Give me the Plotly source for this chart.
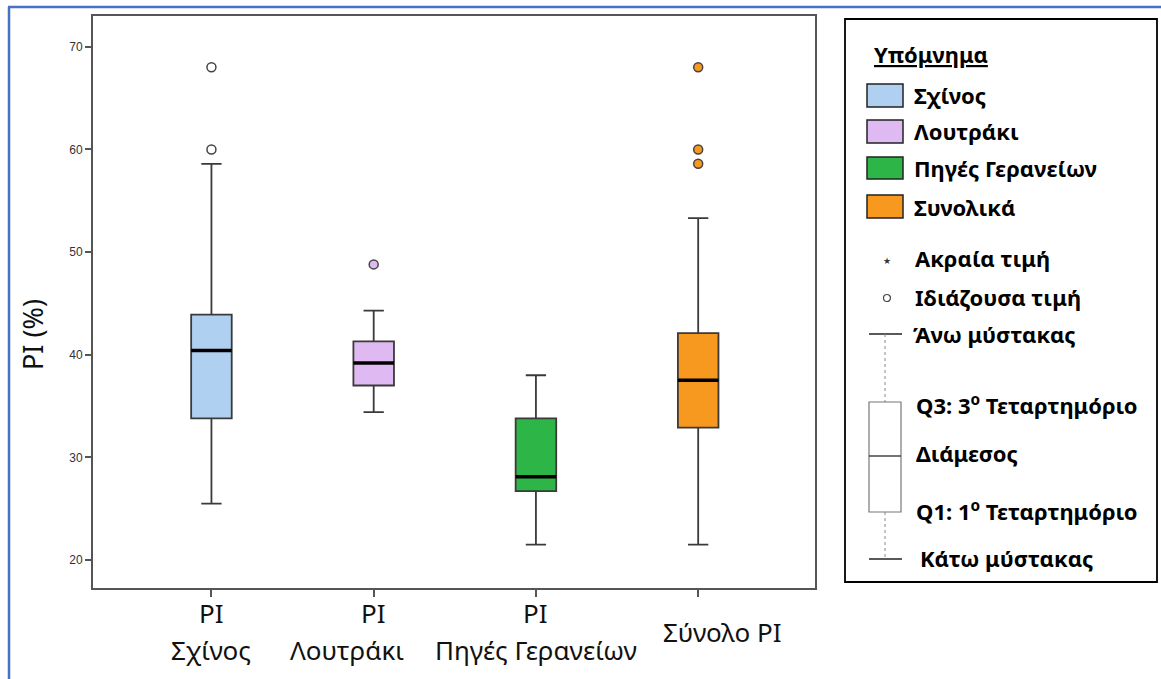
import plotly.graph_objects as go

# ---- data ----
groups = ["Σχίνος", "Λουτράκι", "Πηγές Γερανείων", "Σύνολο PI"]
tick_line1 = ["PI", "PI", "PI", ""]
tick_line2 = ["Σχίνος", "Λουτράκι", "Πηγές Γερανείων", ""]
tick_single = ["", "", "", "Σύνολο PI"]
q1 = [33.8, 37.0, 26.7, 32.9]
median = [40.4, 39.2, 28.1, 37.5]
q3 = [43.9, 41.3, 33.8, 42.1]
lower_whisker = [25.5, 34.4, 21.5, 21.5]
upper_whisker = [58.6, 44.3, 38.0, 53.3]
outliers = [[68.0, 60.0], [48.8], [], [68.0, 60.0, 58.6]]
colors = ["#AFD0F0", "#DFB9F1", "#2DB647", "#F7981F"]
outlier_fill = ["white", "#DFB9F1", "#2DB647", "#F7981F"]
legend_labels = ["Σχίνος", "Λουτράκι", "Πηγές Γερανείων", "Συνολικά"]
y_ticks = [20, 30, 40, 50, 60, 70]

W, H = 1161, 679
L, R, T, B = 93, 815, 16, 588
BOXW = 0.25
line2_shift = [0, -27, 0, 0]

def px(x):
    return (x - L) / (R - L)

def py(y):
    return (B - y) / (B - T)

fig = go.Figure()
for i, g in enumerate(groups):
    fig.add_trace(go.Box(
        x=[i], q1=[q1[i]], median=[median[i]], q3=[q3[i]],
        lowerfence=[lower_whisker[i]], upperfence=[upper_whisker[i]],
        width=BOXW, whiskerwidth=0.5, fillcolor=colors[i],
        line=dict(color="#3a3a3a", width=1.8), boxpoints=False,
        hoverinfo="skip", showlegend=False,
    ))
    fig.add_trace(go.Scatter(
        x=[i - BOXW / 2, i + BOXW / 2], y=[median[i], median[i]],
        mode="lines", line=dict(color="black", width=3.5),
        hoverinfo="skip", showlegend=False,
    ))
    if outliers[i]:
        fig.add_trace(go.Scatter(
            x=[i] * len(outliers[i]), y=outliers[i], mode="markers",
            marker=dict(size=9, color=outlier_fill[i],
                        line=dict(color="#444", width=1.5)),
            hoverinfo="skip", showlegend=False,
        ))

xfont = dict(size=26, color="#111", family="Noto Sans")
annotations = []
for i in range(len(groups)):
    if tick_line1[i]:
        annotations.append(dict(x=i, y=py(613), xref="x", yref="paper",
                                text=tick_line1[i], showarrow=False, font=xfont,
                                xanchor="center", yanchor="middle"))
    if tick_line2[i]:
        annotations.append(dict(x=i, xshift=line2_shift[i], y=py(650), xref="x", yref="paper",
                                text=tick_line2[i], showarrow=False, font=xfont,
                                xanchor="center", yanchor="middle"))
    if tick_single[i]:
        annotations.append(dict(x=i, xshift=24, y=py(632), xref="x", yref="paper",
                                text=tick_single[i], showarrow=False, font=xfont,
                                xanchor="center", yanchor="middle"))

annotations.append(dict(x=px(32), y=py(335), xref="paper", yref="paper",
                        text="PI (%)", textangle=-90, showarrow=False,
                        font=dict(size=27, color="#111", family="Noto Sans"),
                        xanchor="center", yanchor="middle"))

shapes = []
# outer blue border
shapes.append(dict(type="line", xref="paper", yref="paper",
                   x0=px(9), x1=px(9), y0=py(7), y1=py(679),
                   line=dict(color="#4472C4", width=2.5)))
shapes.append(dict(type="line", xref="paper", yref="paper",
                   x0=px(8), x1=px(1161), y0=py(7), y1=py(7),
                   line=dict(color="#4472C4", width=2.5)))
# legend box
shapes.append(dict(type="rect", xref="paper", yref="paper",
                   x0=px(845), x1=px(1157), y0=py(19), y1=py(582),
                   line=dict(color="black", width=1.8), fillcolor="rgba(0,0,0,0)"))

lfont = dict(size=22, color="black", family="Noto Sans")

def ltext(x, y, t):
    annotations.append(dict(x=px(x), y=py(y), xref="paper", yref="paper",
                            text="<b>" + t + "</b>", showarrow=False, font=lfont,
                            xanchor="left", yanchor="middle"))

ltext(872, 54, "<u>Υπόμνημα</u>")
sw_y = [(84, 107), (120, 143), (157, 179), (195, 218)]
for i, lab in enumerate(legend_labels):
    y0, y1 = sw_y[i]
    shapes.append(dict(type="rect", xref="paper", yref="paper",
                       x0=px(867), x1=px(903), y0=py(y1), y1=py(y0),
                       line=dict(color="#222", width=1.5), fillcolor=colors[i]))
    ltext(912, (y0 + y1) / 2, lab)

annotations.append(dict(x=px(887), y=py(261), xref="paper", yref="paper",
                        text="★", showarrow=False,
                        font=dict(size=9, color="#333", family="DejaVu Sans"),
                        xanchor="center", yanchor="middle"))
ltext(913, 258, "Ακραία τιμή")
shapes.append(dict(type="circle", xref="paper", yref="paper",
                   x0=px(883.5), x1=px(890.5), y0=py(301.5), y1=py(294.5),
                   line=dict(color="#444", width=1.2), fillcolor="white"))
ltext(913, 297, "Ιδιάζουσα τιμή")

# whisker key
shapes.append(dict(type="line", xref="paper", yref="paper",
                   x0=px(869), x1=px(902), y0=py(334), y1=py(334),
                   line=dict(color="#222", width=1.5)))
shapes.append(dict(type="line", xref="paper", yref="paper",
                   x0=px(885), x1=px(885), y0=py(334), y1=py(402),
                   line=dict(color="#888", width=1, dash="dot")))
shapes.append(dict(type="rect", xref="paper", yref="paper",
                   x0=px(869), x1=px(901), y0=py(512), y1=py(402),
                   line=dict(color="#777", width=1.2), fillcolor="white"))
shapes.append(dict(type="line", xref="paper", yref="paper",
                   x0=px(869), x1=px(901), y0=py(456), y1=py(456),
                   line=dict(color="#444", width=1.5)))
shapes.append(dict(type="line", xref="paper", yref="paper",
                   x0=px(885), x1=px(885), y0=py(512), y1=py(559),
                   line=dict(color="#888", width=1, dash="dot")))
shapes.append(dict(type="line", xref="paper", yref="paper",
                   x0=px(869), x1=px(902), y0=py(559), y1=py(559),
                   line=dict(color="#222", width=1.5)))
ltext(911, 334, "Άνω μύστακας")
ltext(914, 404, "Q3: 3<sup>ο</sup> Τεταρτημόριο")
ltext(914, 453, "Διάμεσος")
ltext(914, 510, "Q1: 1<sup>ο</sup> Τεταρτημόριο")
ltext(918, 558, "Κάτω μύστακας")

fig.update_layout(
    width=W, height=H,
    margin=dict(l=L, r=W - R, t=T, b=H - B, pad=0),
    paper_bgcolor="white", plot_bgcolor="white",
    showlegend=False,
    xaxis=dict(range=[-0.73, 3.72], tickvals=[0, 1, 2, 3], showticklabels=False,
               ticks="outside", ticklen=7, tickwidth=1.8, tickcolor="#555",
               showline=True, linecolor="#555", linewidth=1.8, mirror=True,
               showgrid=False, zeroline=False, fixedrange=True),
    yaxis=dict(range=[17.27, 73.0], tickvals=y_ticks,
               ticks="outside", ticklen=6, tickwidth=1.8, tickcolor="#555",
               tickfont=dict(size=12, color="#333", family="Liberation Sans"),
               showline=True, linecolor="#555", linewidth=1.8, mirror=True,
               showgrid=False, zeroline=False, fixedrange=True),
    annotations=annotations, shapes=shapes,
)

fig.write_html("out.html", config={"displayModeBar": False},
               post_script="document.body.style.margin='0';document.body.style.overflow='hidden';")
